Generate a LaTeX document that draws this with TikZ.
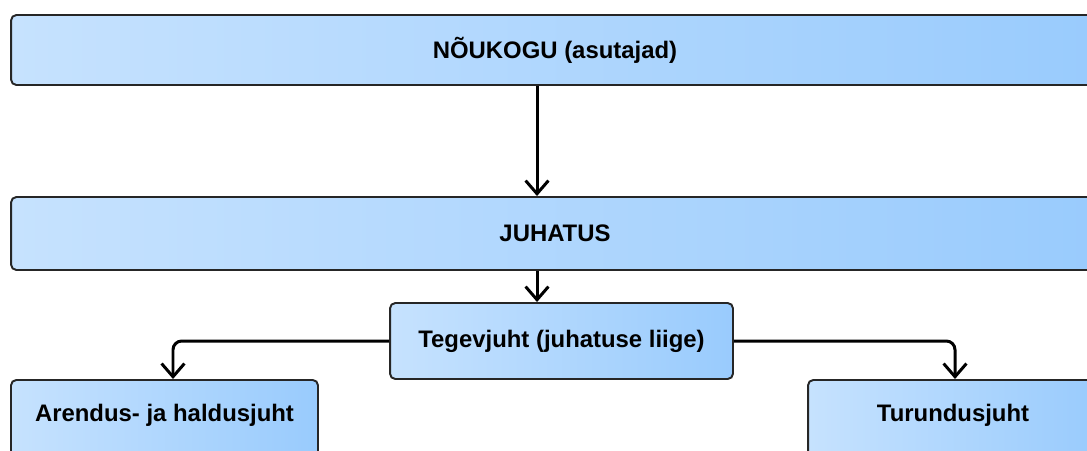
\documentclass[tikz,border=0pt]{standalone}
\usepackage{fontspec}
\setmainfont{Liberation Sans}
\usetikzlibrary{arrows.meta}
\definecolor{boxleft}{HTML}{C6E2FE}
\definecolor{boxright}{HTML}{99CBFD}
\tikzstyle{unit} = [draw=black!85, line width=1.1pt, rounded corners=3pt, left color=boxleft, right color=boxright,%
	font=\bfseries\fontsize{13.6}{15}\selectfont, inner sep=0pt]
\tikzstyle{link} = [line width=1.7pt, rounded corners=5pt, -{Straight Barb[length=7.5pt,width=13pt,line width=1.7pt]}]

\begin{document}
\begin{tikzpicture}[x=0.02cm, y=-0.02cm]%
			\useasboundingbox (0,0) rectangle (1087,450);%
			\clip (0,0) rectangle (1087,450);%
			\coordinate (spine) at (537,0);%
			% boxes
			\node [unit, minimum width=21.76cm, minimum height=1.40cm] (nou) at (555,50) {NÕUKOGU (asutajad)};%
			\node [unit, minimum width=21.76cm, minimum height=1.46cm] (juh) at (555,233.5) {JUHATUS};%
			\node [unit, minimum width=6.86cm, minimum height=1.52cm] (teg) at (561.5,341) {Tegevjuht (juhatuse liige)};%
			\node [unit, minimum width=6.14cm, text height=0.84cm, text depth=0.9cm, anchor=north] (are) at (164.5,379) {Arendus- ja haldusjuht};%
			\node [unit, minimum width=5.80cm, text height=0.84cm, text depth=0.9cm, anchor=north] (tur) at (953,379) {Turundusjuht};%
			% links
			\draw [link] (nou.south -| spine) -- (juh.north -| spine);%
			\draw [link] (juh.south -| spine) -- (teg.north -| spine);%
			\draw [link] (teg.west) -| ([xshift=0.17cm]are.north);%
			\draw [link] (teg.east) -| ([xshift=0.04cm]tur.north);%
		\end{tikzpicture}
\end{document}
